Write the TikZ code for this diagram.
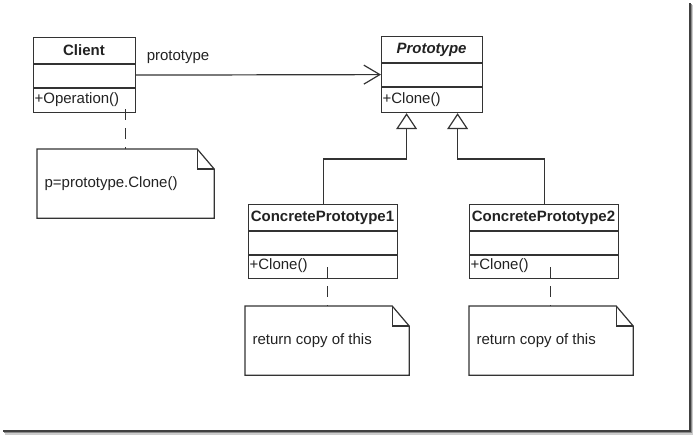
\documentclass[tikz,border=0pt]{standalone}
\usepackage{fontspec}
\setmainfont{Liberation Sans}
\usetikzlibrary{arrows.meta}
\definecolor{linec}{HTML}{333333}
\definecolor{textc}{HTML}{222222}
\newcommand\notefold[1]{%
  \draw[linec] (#1.north west) -- ([xshift=-17pt]#1.north east) -- ([yshift=-20pt]#1.north east) -- (#1.south east) -- (#1.south west) -- cycle;
  \draw[linec] ([xshift=-17pt]#1.north east) |- ([yshift=-20pt]#1.north east);}
\newcommand\clssep[1]{%
  \draw[linec] ([yshift=-27pt]#1.north west) -- ([yshift=-27pt]#1.north east);
  \draw[linec] ([yshift=-51pt]#1.north west) -- ([yshift=-51pt]#1.north east);}
\begin{document}
\begin{tikzpicture}[x=1pt,y=-1pt,line width=1.2pt,
  every node/.style={text=textc,font=\fontsize{15}{17}\selectfont},
  cls/.style={draw=linec,rectangle,inner sep=0pt,anchor=north west},
  clsname/.style={font=\fontsize{15}{17}\selectfont\bfseries},
  member/.style={anchor=west,inner sep=1pt},
  notebox/.style={draw=none,rectangle,inner sep=0pt,anchor=north west},
  notetext/.style={anchor=west,inner sep=0pt},
  notelink/.style={draw=linec,dash pattern=on 11pt off 8pt},
  assoc/.style={draw=linec,-{Straight Barb[length=16pt,width=19pt,line width=1.2pt]}},
  inh/.style={draw=linec,-{Triangle[open,length=16pt,width=21pt,line width=1.2pt,fill=white]}}]
\useasboundingbox (0,0) rectangle (693,435);
% frame shadow
\fill[black!75] (688.5,3) rectangle (690.5,432);
\fill[black!45] (690.5,4) rectangle (692,433);
\fill[black!20] (692,5) rectangle (693,435);
\fill[black!75] (3,429.5) rectangle (690.5,431.5);
\fill[black!45] (4,431.5) rectangle (692,433);
\fill[black!20] (5,433) rectangle (693,435);
% classes
\node[cls,minimum width=102,minimum height=75] (client) at (33,37) {};
\clssep{client}
\node[clsname] (clientname) at (84,50) {Client};
\node[member] (clientop) at (33,100) {+Operation()};

\node[cls,minimum width=101,minimum height=76] (proto) at (381,36) {};
\clssep{proto}
\node[clsname,font=\fontsize{15}{17}\selectfont\bfseries\itshape] (protoname) at (431.5,50) {Prototype};
\node[member] (protoop) at (381,100) {+Clone()};

\node[cls,minimum width=149,minimum height=74] (cp1) at (248,204) {};
\clssep{cp1}
\node[clsname] (cp1name) at (322.5,218) {ConcretePrototype1};
\node[member] (cp1op) at (248,266) {+Clone()};

\node[cls,minimum width=149,minimum height=74] (cp2) at (469,204) {};
\clssep{cp2}
\node[clsname] (cp2name) at (543.5,218) {ConcretePrototype2};
\node[member] (cp2op) at (469,266) {+Clone()};

% notes
\node[notebox,minimum width=176,minimum height=68] (note1) at (37,149) {};
\notefold{note1}
\node[notetext] (note1text) at ([xshift=7pt]note1.west) {p=prototype.Clone()};

\node[notebox,minimum width=163,minimum height=68] (note2) at (245,306) {};
\notefold{note2}
\node[notetext] (note2text) at ([xshift=7pt]note2.west) {return copy of this};

\node[notebox,minimum width=163,minimum height=68] (note3) at (469,306) {};
\notefold{note3}
\node[notetext] (note3text) at ([xshift=7pt]note3.west) {return copy of this};

% association
\draw[assoc] (client.east) -- (proto.west) node[pos=0,anchor=south west,xshift=9pt,yshift=10pt,inner sep=1pt] (assoclabel) {prototype};

% inheritance
\draw[inh] (cp1.north) -- ++(0,-45) -| ([xshift=-25.5pt]proto.south);
\draw[inh] (cp2.north) -- ++(0,-45) -| ([xshift=25.5pt]proto.south);

% note links
\draw[notelink] ([xshift=41pt,yshift=4pt]client.south) -- ([xshift=41pt]client.south |- note1.north);
\draw[notelink] ([xshift=4.5pt,yshift=12pt]cp1.south) -- ([xshift=4.5pt]cp1.south |- note2.north);
\draw[notelink] ([xshift=6.5pt,yshift=12pt]cp2.south) -- ([xshift=6.5pt]cp2.south |- note3.north);
\end{tikzpicture}
\end{document}
